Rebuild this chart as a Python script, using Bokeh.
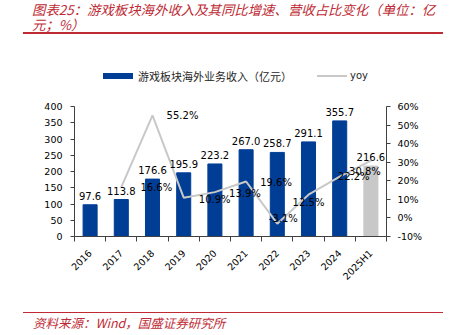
from math import pi
from bokeh.plotting import figure
from bokeh.layouts import column
from bokeh.models import (Range1d, LinearAxis, FixedTicker, Label, ColumnDataSource,
                          PrintfTickFormatter, Div)
from bokeh.embed import file_html
from bokeh.resources import INLINE

# ---------------- data ----------------
categories = ["2016", "2017", "2018", "2019", "2020", "2021", "2022", "2023", "2024", "2025H1"]
revenue = [97.6, 113.8, 176.6, 195.9, 223.2, 267.0, 258.7, 291.1, 355.7, 216.6]
yoy_categories = ["2017", "2018", "2019", "2020", "2021", "2022", "2023", "2024", "2025H1"]
yoy = [16.6, 55.2, 10.9, 13.9, 19.6, -3.1, 12.5, 22.2, 30.8]
left_ticks = [0, 50, 100, 150, 200, 250, 300, 350, 400]
right_ticks = [-10, 0, 10, 20, 30, 40, 50, 60]

title_line1 = "图表25：游戏板块海外收入及其同比增速、营收占比变化（单位：亿"
title_line2 = "元；%）"
source_text = "资料来源：Wind，国盛证券研究所"
bar_name = "游戏板块海外业务收入（亿元）"
line_name = "yoy"

# ---------------- styles ----------------
BLUE = "#003E96"
GREY_BAR = "#C8C8C8"
LINE = "#C8C8C8"
RED = "#BE2B35"
AX = "#404040"
NUM_FONT = "DejaVu Sans"
CJK_FONT = "Noto Sans CJK SC"
# label placement offsets for yoy labels (pixels: right, up)
yoy_dx = [35, 30, 31, 30, 30, 6, 0, 14, -6]
yoy_dy = [0, 0, -2, -1, -1, 5, -8, 0, -11]

W = 452
TOP_H, MAIN_H, FOOT_H = 90, 215, 30
L, R, T, B = 74, 386, 106 - TOP_H, 236 - TOP_H  # frame edges inside the main figure


def txt(left, top, text, font, size, color, style="normal", lh=14):
    return ('<span style="position:absolute;left:%spx;top:%spx;white-space:nowrap;'
            "line-height:%spx;font-family:'%s';font-size:%s;font-style:%s;color:%s;\">"
            "%s</span>" % (left, top, lh, font, size, style, color, text))


def box(left, top, width, height, color):
    return ('<div style="position:absolute;left:%spx;top:%spx;width:%spx;height:%spx;'
            'background:%s;"></div>' % (left, top, width, height, color))


# ---------------- title + legend ----------------
title_html = (
    '<div style="position:relative;width:%dpx;height:%dpx;">' % (W, TOP_H)
    + txt(32, 1.5, title_line1 + "<br>" + title_line2, CJK_FONT, "13.4px", RED,
          "italic", lh=15)
    + box(23, 32, 420, 2, RED)
    + box(103, 73, 30, 6, BLUE)
    + txt(138, 69, bar_name, CJK_FONT, "11px", "#262626")
    + box(317, 75, 30, 2, LINE)
    + txt(350, 69, line_name, NUM_FONT, "10px", "#262626")
    + '</div>')
title_div = Div(text=title_html, width=W, height=TOP_H, margin=(0, 0, 0, 0))

# ---------------- main chart ----------------
p = figure(width=W, height=MAIN_H, output_backend="svg", toolbar_location=None,
           x_range=Range1d(0, len(categories)), y_range=Range1d(0, 400),
           min_border_left=L, min_border_right=W - R, min_border_top=T,
           min_border_bottom=MAIN_H - B, outline_line_color=None)
p.extra_y_ranges = {"yoy": Range1d(-10, 60)}
p.xgrid.visible = False
p.ygrid.visible = False

xs = [categories.index(c) + 0.5 for c in categories]
yx = [categories.index(c) + 0.5 for c in yoy_categories]
colors = [GREY_BAR if "H1" in c else BLUE for c in categories]

bar_src = ColumnDataSource(dict(x=xs, top=revenue, color=colors))
bars = p.vbar(x="x", top="top", width=0.45, color="color", source=bar_src)
line = p.line(x=yx, y=yoy, y_range_name="yoy", line_color=LINE, line_width=2)

xa = p.xaxis[0]
xa.ticker = FixedTicker(ticks=xs, minor_ticks=list(range(len(categories) + 1)))
xa.major_label_overrides = {x: c for x, c in zip(xs, categories)}
xa.major_label_orientation = pi / 4
xa.major_tick_in = 0
xa.major_tick_out = 0
xa.minor_tick_in = 0
xa.minor_tick_out = 5
xa.axis_line_color = AX
xa.minor_tick_line_color = AX
xa.major_label_text_font = NUM_FONT
xa.major_label_text_font_size = "9.5px"
xa.major_label_text_color = "#000000"
xa.major_label_standoff = 10

ya = p.yaxis[0]
ya.ticker = FixedTicker(ticks=left_ticks)
ya.major_tick_in = 0
ya.major_tick_out = 4
ya.minor_tick_line_color = None
ya.axis_line_color = AX
ya.major_tick_line_color = AX
ya.major_label_text_font = NUM_FONT
ya.major_label_text_font_size = "9.5px"
ya.major_label_text_color = "#000000"
ya.major_label_standoff = 8

ra = LinearAxis(y_range_name="yoy", ticker=FixedTicker(ticks=right_ticks),
                formatter=PrintfTickFormatter(format="%d%%"))
ra.major_tick_in = 0
ra.major_tick_out = 4
ra.minor_tick_line_color = None
ra.axis_line_color = AX
ra.major_tick_line_color = AX
ra.major_label_text_font = NUM_FONT
ra.major_label_text_font_size = "9.5px"
ra.major_label_text_color = "#000000"
ra.major_label_standoff = 7
p.add_layout(ra, "right")

for c, v in zip(categories, revenue):
    p.add_layout(Label(x=categories.index(c) + 0.5, y=v, text="%.1f" % v,
                       text_align="center", text_baseline="alphabetic", y_offset=9,
                       text_font=NUM_FONT, text_font_size="10px", text_color="#000000"))

for c, v, dx, dy in zip(yoy_categories, yoy, yoy_dx, yoy_dy):
    p.add_layout(Label(x=categories.index(c) + 0.5, y=v, y_range_name="yoy",
                       text="%.1f%%" % v, text_align="center", text_baseline="middle",
                       x_offset=dx, y_offset=dy, text_font=NUM_FONT,
                       text_font_size="10px", text_color="#000000"))

# ---------------- footer ----------------
foot_html = (
    '<div style="position:relative;width:%dpx;height:%dpx;">' % (W, FOOT_H)
    + box(23, 7, 420, 1, RED)
    + txt(33, 11, source_text, CJK_FONT, "12.5px", RED, "italic")
    + '</div>')
foot_div = Div(text=foot_html, width=W, height=FOOT_H, margin=(0, 0, 0, 0))

page = column(title_div, p, foot_div, spacing=0)
open("out.html", "w").write(file_html(page, INLINE))
